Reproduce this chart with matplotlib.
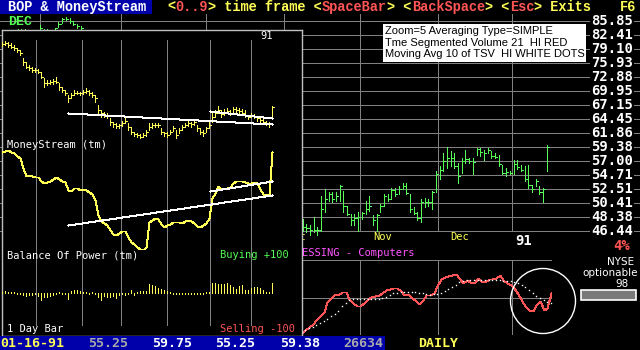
import matplotlib
matplotlib.use("Agg")
import matplotlib.pyplot as plt
from matplotlib.patches import Rectangle, Circle
from matplotlib.ticker import NullLocator

# ---- colours of the old dos screen
BLUE = "#0000aa"
YEL = "#ffff55"
RED = "#ff5555"
GRN = "#55ff55"
MAG = "#ff55ff"
GRAY = "#808080"
LGRAY = "#aaaaaa"
WHITE = "#ffffff"

# ---- main price chart (right scale)
price_levels = [85.85, 82.41, 79.10, 75.93, 72.88, 69.95, 67.15, 64.45,
                61.86, 59.38, 57.00, 54.71, 52.51, 50.41, 48.38, 46.44]
price_labels = ["85.85", "82.41", "79.10", "75.93", "72.88", "69.95", "67.15", "64.45",
                "61.86", "59.38", "57.00", "54.71", "52.51", "50.41", "48.38", "46.44"]
month_lines = [11, 33, 56, 77, 97.5, 118.5, 138.5]
month_names = ["Oct", "Nov", "Dec"]
month_label_days = [78, 101, 122]

# bars seen above the inset (top left)
early_days = list(range(5, 23))
early_hi = [83.9, 83.9, 83.8, 83.5, 83.4, 83.4, 84.9, 83.9, 83.8, 83.7, 84.2, 85.6, 86.6, 86.9, 86.6, 85.9, 85.1, 84.7]
early_lo = [83.0, 83.0, 83.0, 82.8, 82.8, 82.8, 83.6, 83.0, 83.0, 83.0, 83.5, 84.4, 85.4, 86.1, 85.4, 84.9, 84.1, 83.6]
early_cl = [83.6, 83.4, 83.5, 83.2, 83.0, 83.1, 84.0, 83.5, 83.4, 83.5, 84.0, 85.2, 86.3, 86.4, 85.8, 85.1, 84.5, 84.0]

# bars right of the inset
main_first_day = 82
main_hi = [48.1, 47.4, 47.2, 48.4, 47.0, 51.5, 52.5, 52.0, 52.0, 52.0, 53.2, 52.2, 50.0, 48.8, 48.8, 49.1, 49.1,
           50.7, 51.5, 48.6, 48.8, 50.3, 51.7, 51.7, 52.7, 52.7, 53.0, 53.5, 53.5, 51.7, 49.8, 49.1, 51.0, 51.2,
           51.0, 52.2, 55.3, 56.1, 58.3, 59.4, 58.6, 58.3, 56.7, 57.5, 58.9, 57.5, 57.5, 59.2, 59.2, 58.9, 59.2,
           58.6, 58.3, 58.0, 56.4, 55.8, 55.3, 57.2, 57.2, 56.4, 56.1, 56.4, 53.2, 54.0, 53.0, 52.7, 59.7]
main_lo = [46.5, 46.3, 45.9, 46.3, 45.9, 46.5, 49.1, 50.7, 50.5, 50.7, 50.7, 49.1, 48.6, 47.2, 47.2, 46.5, 48.1,
           48.8, 49.3, 47.2, 46.5, 49.1, 50.0, 50.7, 51.0, 51.5, 51.7, 52.5, 51.7, 49.1, 48.8, 47.9, 47.7, 49.8,
           50.0, 49.5, 52.0, 54.0, 55.3, 55.8, 56.1, 55.8, 53.5, 55.1, 56.7, 56.7, 54.8, 58.0, 57.8, 57.2, 58.3,
           57.5, 57.5, 56.1, 54.8, 54.5, 54.8, 54.8, 55.6, 55.3, 53.7, 52.7, 52.0, 53.0, 51.7, 50.5, 55.3]
main_cl = [47.0, 46.9, 46.6, 46.6, 46.6, 49.5, 51.0, 51.7, 51.0, 51.5, 53.0, 50.0, 48.8, 48.0, 48.3, 48.4, 49.0,
           49.5, 50.0, 48.0, 48.6, 50.0, 51.5, 51.0, 52.3, 51.7, 52.5, 53.0, 51.9, 49.5, 49.0, 48.3, 50.5, 50.5,
           50.5, 52.0, 54.8, 55.5, 57.0, 57.5, 57.5, 56.2, 54.5, 57.0, 57.3, 57.0, 56.8, 59.0, 58.5, 58.3, 58.9,
           57.8, 57.7, 56.5, 55.0, 55.2, 55.0, 56.5, 56.0, 55.5, 54.0, 53.2, 52.5, 53.8, 52.0, 52.5, 59.4]

# ---- time segmented volume panel
tsv = [5, 14, 23, 33, 44, 55, 70, 98, 111, 122, 121, 130, 128, 108, 96, 88, 88, 97, 108, 113, 117, 120,
       126, 134, 138, 142, 142, 131, 119, 122, 112, 104, 93, 105, 120, 120, 126, 148, 167, 176, 178, 180,
       185, 172, 157, 165, 159, 155, 173, 162, 158, 167, 170, 173, 182, 165, 157, 150, 142, 122, 103, 86,
       75, 72, 91, 102, 75, 81, 125]
tsv_ma = [8, 13, 19, 24, 30, 35, 41, 48, 55, 63, 73, 86, 95, 105, 107, 107, 107, 107, 107, 108, 109, 109,
          110, 114, 119, 125, 127, 128, 129, 130, 129, 128, 127, 125, 123, 120, 122, 124, 126, 132, 137, 144,
          151, 158, 162, 164, 165, 165, 165, 165, 165, 165, 165, 165, 165, 163, 162, 161, 159, 156, 151, 143,
          135, 126, 118, 110, 105, 99, 95]
tsv_month_lines = [15.9, 37.2, 57.4]

# ---- inset: MoneyStream price bars
ins_hi = [56.5, 56.8, 56.5, 56.0, 55.5, 54.5, 54.0, 51.5, 50.5, 49.5,
          49.0, 48.5, 48.2, 47.5, 45.5, 45.0, 45.0, 45.2, 46.0, 44.0,
          43.0, 42.0, 40.5, 41.0, 42.0, 41.8, 41.5, 42.0, 42.5, 42.0,
          41.5, 40.5, 37.5, 36.0, 35.5, 35.0, 33.5, 32.5, 32.0, 31.8,
          32.8, 33.8, 32.0, 30.8, 29.5, 29.0, 28.8, 29.0, 30.0, 32.0,
          32.2, 32.0, 32.2, 30.5, 29.5, 29.5, 30.0, 31.2, 30.0, 30.5,
          31.5, 32.2, 32.8, 32.5, 33.2, 31.5, 30.5, 30.0, 31.0, 32.5,
          35.0, 36.0, 37.2, 36.0, 36.2, 36.5, 36.0, 37.0, 36.8, 36.5,
          36.2, 36.0, 34.5, 35.2, 34.8, 34.2, 33.8, 33.2, 32.8, 32.5, 37.2]
ins_lo = [55.2, 55.5, 55.0, 54.5, 54.0, 53.5, 52.5, 49.5, 48.5, 48.0,
          47.5, 47.5, 47.0, 45.5, 43.0, 43.5, 43.8, 43.8, 44.0, 42.0,
          41.5, 40.5, 38.5, 39.5, 40.5, 40.8, 40.5, 40.8, 41.0, 40.5,
          40.0, 38.5, 35.0, 34.0, 33.8, 33.5, 31.5, 31.0, 30.5, 30.5,
          31.2, 32.2, 30.0, 28.8, 28.2, 27.8, 27.5, 27.8, 28.2, 30.0,
          30.5, 30.8, 31.0, 28.8, 28.2, 27.8, 28.8, 29.8, 27.5, 29.0,
          30.0, 30.8, 31.2, 31.0, 31.5, 29.8, 28.8, 28.2, 29.5, 30.5,
          32.5, 33.8, 35.0, 33.8, 34.5, 35.0, 34.5, 35.5, 35.5, 35.0,
          34.5, 33.8, 33.2, 33.8, 33.5, 32.8, 32.2, 31.8, 31.5, 31.0, 33.8]
ins_cl = [55.8, 56.0, 55.6, 55.0, 54.5, 54.0, 53.0, 50.5, 49.0, 48.5,
          48.0, 48.0, 47.5, 46.0, 44.0, 44.2, 44.5, 44.6, 44.5, 42.8,
          42.0, 41.0, 39.5, 40.5, 41.2, 41.2, 41.0, 41.5, 41.8, 41.0,
          40.5, 39.5, 36.0, 35.0, 34.5, 34.2, 32.5, 31.8, 31.2, 31.5,
          32.0, 32.8, 30.8, 29.5, 28.8, 28.5, 28.0, 28.5, 29.5, 31.0,
          31.5, 31.5, 31.5, 29.5, 29.0, 28.5, 29.5, 30.5, 28.5, 30.0,
          31.0, 31.5, 32.0, 31.8, 32.5, 30.5, 29.5, 29.0, 30.5, 31.5,
          34.0, 35.0, 36.0, 34.8, 35.5, 35.8, 35.2, 36.2, 36.0, 35.8,
          35.2, 34.5, 34.0, 34.5, 34.0, 33.5, 33.0, 32.5, 32.2, 31.8, 36.8]
price_trend = ([22.2, 90], [35.0, 31.7])
price_trend2 = ([69.4, 90], [35.7, 33.5])

# ---- inset: MoneyStream line
ms = [315, 318, 319, 314, 310, 303, 296, 265, 241, 245,
      242, 240, 240, 226, 222, 225, 228, 233, 239, 232,
      228, 225, 200, 198, 206, 205, 201, 204, 200, 194,
      188, 170, 125, 106, 101, 95, 80, 68, 66, 72,
      78, 78, 60, 44, 38, 30, 24, 21, 30, 105,
      110, 116, 114, 98, 89, 95, 99, 103, 104, 104,
      102, 107, 109, 106, 100, 92, 88, 94, 102, 115,
      175, 190, 212, 204, 202, 205, 209, 222, 227, 228,
      227, 225, 222, 221, 225, 220, 202, 188, 185, 188, 315]
ms_trend = ([22.2, 90], [95, 185])
ms_trend2 = ([69.4, 90], [198, 227])

# ---- inset: Balance of Power, 1 day bars
bop = [4, 5, 4, 3, 3,
       -3, -4, -6, -8, -6, -5, -4,
       -8, -20, -10, -12, -8, -6, -4,
       3, -3, -3, -18,
       6, 8, 8, 6,
       3, 3, -3, 3, -3,
       -12, -20, -8, -12, -10, -8, -14,
       -6, -4, -5, -3,
       10,
       -5, 3, 6, 6, 7,
       25, 22, 20, 15, 12, 8, 5, 3,
       -3, -4, -3, -4, -3, -4, -3, -3, -3, -3, -3, 3, 3,
       28, 30, 26, 26, 26, 28, 22, 18, 12, 20, 24,
       10, 8, 14, 18, 16, 14, 8, 3, 3, 30]
inset_month_lines = [11.4, 26.8, 39.8, 55.1, 69.4, 83.1]

W, H = 640, 350
fig = plt.figure(figsize=(6.4, 3.5), dpi=100, facecolor="black")


def px_axes(x, y, w, h):
    a = fig.add_axes([x / W, 1 - (y + h) / H, w / W, h / H])
    a.set_facecolor("black")
    a.set_xticks([])
    a.set_yticks([])
    for s in a.spines.values():
        s.set_visible(False)
    return a


MONO = "DejaVu Sans Mono"
HEAD = "Liberation Mono"
NOAA = dict(lw=0.72, antialiased=False, snap=True)  # one screen pixel, hard edges

# main chart
ax = px_axes(0, 14, 640, 218)
ax.set_yscale("log")
ax.set_ylim(46.30, 87.62)
ax.set_xlim(0.2, 0.2 + 640 / 3.7)
ax.yaxis.set_minor_locator(NullLocator())
ax.set_yticks(price_levels)
ax.set_xticks(month_lines)
ax.tick_params(length=0, labelbottom=False, labelleft=False)
ax.grid(True, color=GRAY, **NOAA)
ax.set_axisbelow(True)

ax.vlines(early_days, early_lo, early_hi, color=GRN, **NOAA)
ax.hlines(early_cl, early_days, [d + 0.6 for d in early_days], color=GRN, **NOAA)
days = [main_first_day + k for k in range(len(main_hi))]
ax.vlines(days, main_lo, main_hi, color=GRN, clip_on=False, **NOAA)
ax.hlines(main_cl, days, [d + 0.6 for d in days], color=GRN, **NOAA)

for v, lab in zip(price_levels, price_labels):
    ax.text(612 / 640, v, lab, transform=ax.get_yaxis_transform(), ha="center", va="center",
            color=WHITE, fontsize=10, family=MONO, weight="bold",
            bbox=dict(facecolor="black", edgecolor="none", pad=0.6))
for d, name in zip(month_label_days, month_names):
    ax.text(d, -0.025, name, transform=ax.get_xaxis_transform(), ha="left", va="center",
            color=YEL, fontsize=7.5, family=MONO, clip_on=False)
ax.text(139.5, -0.04, "91", transform=ax.get_xaxis_transform(), ha="left", va="center",
        color=WHITE, fontsize=10, family=MONO, weight="bold", clip_on=False)

# TSV panel
tv = px_axes(302, 260, 250, 75)
tv.set_facecolor("none")
tv.set_xlim(0.09, 68.27)
tv.set_ylim(-1, 226)
tv.set_xticks(tsv_month_lines)
tv.set_yticks([0, 112.5, 225])
tv.tick_params(length=0, labelbottom=False, labelleft=False)
tv.grid(True, color=GRAY, **NOAA)
tv.plot(range(len(tsv)), tsv, color=RED, **NOAA)
tv.plot(range(len(tsv_ma)), tsv_ma, ls="none", marker="s", ms=1.0, color=WHITE, mew=0)

# inset window
ib = px_axes(2, 30, 300, 306)
for s in ib.spines.values():
    s.set_visible(True)
    s.set_color("#c0c0c0")
    s.set_linewidth(1.0)
ib.set_xlim(0.1, 100.1)
ib.set_ylim(0, 1)
ib.vlines(inset_month_lines, 0.036, 0.967, color=GRAY, **NOAA)

p1 = px_axes(2, 33, 300, 107)
p1.set_facecolor("none")
p1.set_xlim(0.1, 100.1)
p1.set_ylim(27, 59.1)
idx = list(range(len(ins_hi)))
p1.vlines(idx, ins_lo, ins_hi, color=YEL, **NOAA)
p1.hlines(ins_cl, idx, [i + 0.7 for i in idx], color=YEL, **NOAA)
p1.plot(*price_trend, color=WHITE, **NOAA)
p1.plot(*price_trend2, color=WHITE, **NOAA)

p2 = px_axes(2, 140, 300, 110)
p2.set_facecolor("none")
p2.set_xlim(0.1, 100.1)
p2.set_ylim(20, 350)
p2.plot(range(len(ms)), ms, color=YEL, **NOAA)
p2.plot(*ms_trend, color=WHITE, **NOAA)
p2.plot(*ms_trend2, color=WHITE, **NOAA)

p3 = px_axes(2, 258, 300, 70)
p3.set_facecolor("none")
p3.set_xlim(0.1, 100.1)
p3.set_ylim(-100, 100)
p3.vlines(range(len(bop)), 0, bop, color=YEL, **NOAA)

# overlay for screen texts
ov = fig.add_axes([0, 0, 1, 1])
ov.set_xlim(0, W)
ov.set_ylim(H, 0)
ov.axis("off")
ov.patch.set_alpha(0)

ov.add_patch(Rectangle((0, 0), 152, 14, facecolor=BLUE, edgecolor="none"))
ov.text(8, 7, "BOP & MoneyStream", color=WHITE, fontsize=9.8, family=HEAD, weight="bold",
        ha="left", va="center")
cw = 0.6 * 9.8 * 100 / 72
x = 167
for seg, col in [("<", YEL), ("0..9", RED), ("> time frame <", YEL), ("SpaceBar", RED),
                 ("> <", YEL), ("BackSpace", RED), ("> <", YEL), ("Esc", RED), ("> Exits", YEL)]:
    ov.text(x, 7, seg, color=col, fontsize=9.8, family=HEAD, weight="bold", ha="left", va="center")
    x += cw * len(seg)
ov.text(636, 7, "F6", color=YEL, fontsize=9.8, family=HEAD, weight="bold", ha="right", va="center")
ov.text(8, 22, "DEC", color=GRN, fontsize=9.5, family=HEAD, weight="bold", ha="left", va="center")
ov.text(622, 246, "4%", color=RED, fontsize=10, family=MONO, weight="bold", ha="center", va="center")

# info box
ov.add_patch(Rectangle((383, 24), 203, 38, facecolor=WHITE, edgecolor="none"))
for yy, line in zip([31, 43, 54], ["Zoom=5 Averaging Type=SIMPLE",
                                   "Tme Segmented Volume 21  HI RED",
                                   "Moving Avg 10 of TSV  HI WHITE DOTS"]):
    ov.text(385, yy, line, color="black", fontsize=8, family="Liberation Sans", ha="left", va="center")

# inset texts
ov.text(260, 36, "91", color=WHITE, fontsize=7.5, family=MONO, ha="left", va="center")
ov.text(7, 145, "MoneyStream (tm)", color=WHITE, fontsize=7.5, family=MONO, ha="left", va="center")
ov.text(7, 255, "Balance Of Power (tm)", color=WHITE, fontsize=7.5, family=MONO, ha="left", va="center")
ov.text(220, 255, "Buying +100", color=GRN, fontsize=7.5, family=MONO, ha="left", va="center")
ov.text(7, 329, "1 Day Bar", color=WHITE, fontsize=7.5, family=MONO, ha="left", va="center")
ov.text(220, 329, "Selling -100", color=RED, fontsize=7.5, family=MONO, ha="left", va="center")

# lower right
ov.text(302, 253, "ESSING - Computers", color=MAG, fontsize=7.5, family=MONO, ha="left", va="center")
ov.add_patch(Circle((543, 301), 32.5, facecolor="none", edgecolor=WHITE, lw=1))
ov.text(621, 262, "NYSE", color=WHITE, fontsize=7.5, family="DejaVu Sans", ha="center", va="center")
ov.text(610, 273, "optionable", color=WHITE, fontsize=7.5, family="DejaVu Sans", ha="center", va="center")
ov.text(622, 284, "98", color=WHITE, fontsize=7.5, family="DejaVu Sans", ha="center", va="center")
ov.add_patch(Rectangle((581, 290), 55, 10, facecolor="#7a7a7a", edgecolor=WHITE, lw=1.2))

# status line
ov.add_patch(Rectangle((0, 336), 385, 14, facecolor=BLUE, edgecolor="none"))
for xx, s, col in [(0, "01-16-91", YEL), (88, "55.25", LGRAY), (152, "59.75", WHITE),
                   (215, "55.25", WHITE), (280, "59.38", WHITE), (343, "26634", LGRAY),
                   (418, "DAILY", YEL)]:
    ov.text(xx, 343.5, s, color=col, fontsize=9.5, family=MONO, weight="bold", ha="left", va="center")

fig.savefig("out.png", dpi=100, facecolor="black")
